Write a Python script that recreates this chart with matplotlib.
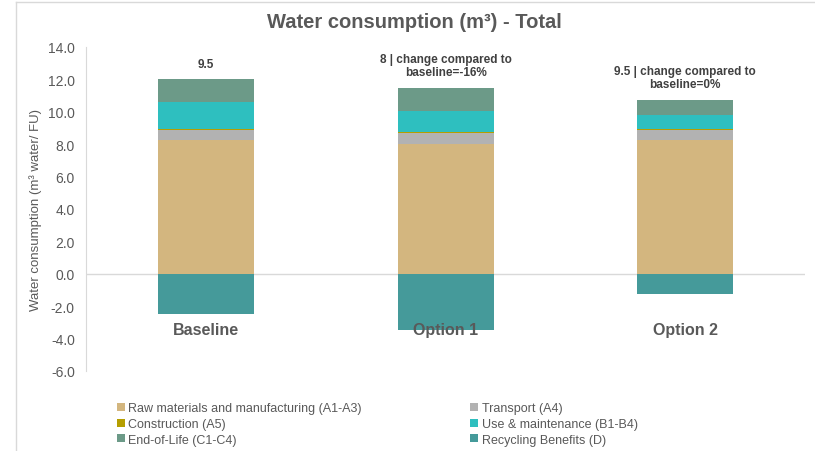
import matplotlib.pyplot as plt
import numpy as np
from matplotlib.lines import Line2D
from matplotlib.patches import Patch

plt.rcParams['font.family'] = ['Liberation Sans', 'DejaVu Sans']

options = ['Baseline', 'Option 1', 'Option 2']
stages = ['Raw materials and manufacturing (A1-A3)', 'Transport (A4)', 'Construction (A5)',
          'Use & maintenance (B1-B4)', 'End-of-Life (C1-C4)', 'Recycling Benefits (D)']
raw_materials = [8.25, 8.0, 8.25]
transport = [0.62, 0.67, 0.62]
construction = [0.09, 0.10, 0.09]
use_maint = [1.63, 1.28, 0.84]
end_of_life = [1.41, 1.41, 0.93]
recycling = [-2.5, -3.46, -1.23]

colors = ['#D3B67F', '#B2B2B2', '#B59E00', '#2EBFBF', '#6C9A88', '#459A9A']
grey = '#595959'

fig = plt.figure(figsize=(8.15, 4.52), dpi=100)
ax = fig.add_axes([0.1055, 0.177, 0.8825, 0.717])

x = np.arange(len(options))
width = 0.4
bottom = np.zeros(len(options))
for vals, col in zip([raw_materials, transport, construction, use_maint, end_of_life], colors[:5]):
    ax.bar(x, vals, width, bottom=bottom, color=col, linewidth=0, zorder=3)
    bottom += np.array(vals)
ax.bar(x, recycling, width, color=colors[5], linewidth=0, zorder=3)

ax.axhline(0, color='#D9D9D9', lw=1, zorder=1)
ax.set_xlim(-0.5, 2.5)
ax.set_ylim(-6, 14)
ax.set_yticks(np.arange(-6, 14.1, 2))
ax.set_yticklabels([f'{v:.1f}' for v in np.arange(-6, 14.1, 2)])
ax.tick_params(axis='y', length=0, pad=8, labelsize=10, labelcolor=grey)
ax.set_xticks([])
for s in ['top', 'right', 'bottom']:
    ax.spines[s].set_visible(False)
ax.spines['left'].set_color('#D9D9D9')
ax.set_ylabel('Water consumption (m³ water/ FU)', fontsize=9.5, color=grey, labelpad=4)

# category names sit just below the negative bars
for i, name in enumerate(options):
    ax.text(i, -3.45, name, ha='center', va='center', fontsize=11.5, fontweight='bold',
            color=grey, zorder=5)

# net totals above each bar
net = bottom + np.array(recycling)
base = round(net[0], 1)
for i in range(len(options)):
    val = round(net[i], 1)
    if i == 0:
        label = f'{val:g}'
    else:
        pct = round((net[i] - base) / base * 100) + 0
        label = f'{val:g} | change compared to\nbaseline={pct:d}%'
    ax.annotate(label, (i, bottom[i]), xytext=(0, 7), textcoords='offset points',
                ha='center', va='bottom', fontsize=8.5, fontweight='bold', color='#404040',
                linespacing=1.15)

fig.text(414 / 815, 0.951, 'Water consumption (m³) - Total', ha='center', va='center',
         fontsize=14.5, fontweight='bold', color=grey)

# thin chart-area frame
fig.add_artist(Line2D([16 / 815, 16 / 815], [0, 1 - 3 / 452], color='#D9D9D9', lw=1))
fig.add_artist(Line2D([16 / 815, 1], [1 - 3 / 452, 1 - 3 / 452], color='#D9D9D9', lw=1))

handles = [Patch(facecolor=c) for c in colors]
legend_kw = dict(frameon=False, fontsize=9, labelcolor=grey, handlelength=0.6,
                 handleheight=0.6, handletextpad=0.3, labelspacing=0.3, borderpad=0,
                 loc='upper left')
fig.legend([handles[0], handles[2], handles[4]], [stages[0], stages[2], stages[4]],
           bbox_to_anchor=(111 / 815, 1 - 397 / 452), **legend_kw)
fig.legend([handles[1], handles[3], handles[5]], [stages[1], stages[3], stages[5]],
           bbox_to_anchor=(464 / 815, 1 - 397 / 452), **legend_kw)

fig.savefig('out.png', dpi=100)
